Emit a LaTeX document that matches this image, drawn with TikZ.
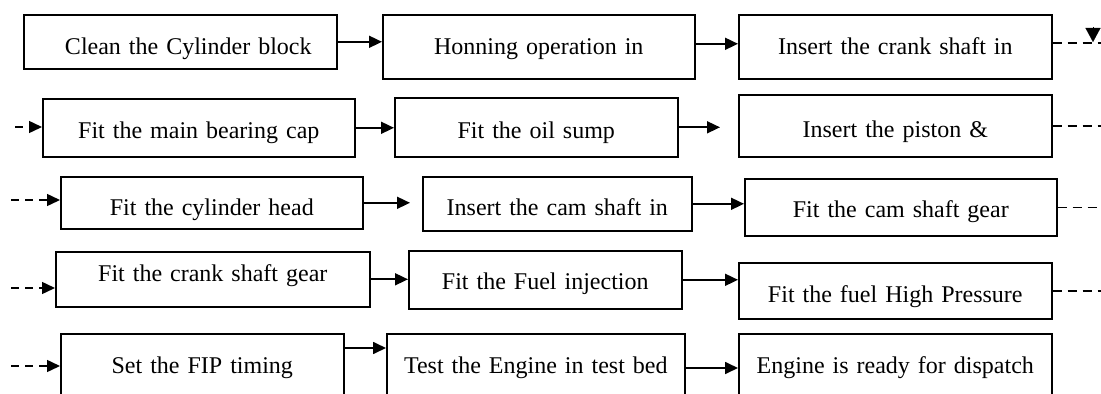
\documentclass[tikz,border=0pt]{standalone}
\usepackage{fontspec}
\setmainfont{Liberation Serif}
\usetikzlibrary{arrows.meta,positioning}

\begin{document}
\begin{tikzpicture}[x=1bp,y=1bp,>={Triangle[length=13bp,width=12bp]},
    stepbox/.style={draw,line width=1.6bp,inner sep=0pt,anchor=north west,align=center,
      font=\fontsize{24bp}{28bp}\selectfont,text height=40bp},
    flow/.style={->,line width=1.7bp},
    dashflow/.style={->,line width=1.5bp,dash pattern=on 8bp off 6bp},
    dashline/.style={line width=1.5bp,dash pattern=on 9bp off 6bp},
    droptip/.style={-{Triangle[length=14bp,width=15bp]},line width=0.1bp}]
  \useasboundingbox (0,0) rectangle (1101,393);
  \clip (0,0) rectangle (1101,393);
  \coordinate (rim) at (1101,0);
  %%
    % Node: clean
    \node[stepbox,text width=313bp,text depth=14bp] (clean) at (23,379) {\hspace*{16bp}Clean the Cylinder block};
    % Node: honing
    \node[stepbox,text width=312bp,text depth=24bp] (honing) at (382,379) {Honning operation in};
    % Node: crank
    \node[stepbox,text width=313bp,text depth=24bp] (crank) at (738,379) {Insert the crank shaft in};
    % Node: bearing
    \node[stepbox,text width=312bp,text depth=18bp] (bearing) at (42,295) {Fit the main bearing cap};
    % Node: sump
    \node[stepbox,text width=283bp,text height=41bp,text depth=18bp] (sump) at (394,296) {Fit the oil sump};
    % Node: piston
    \node[stepbox,text width=313bp,text height=43bp,text depth=19bp] (piston) at (738,299) {Insert the piston \&};
    % Node: head
    \node[stepbox,text width=302bp,text height=39bp,text depth=13bp] (head) at (60,217) {Fit the cylinder head};
    % Node: camshaft
    \node[stepbox,text width=269bp,text height=39bp,text depth=15bp] (camshaft) at (422,217) {Insert the cam shaft in};
    % Node: camgear
    \node[stepbox,text width=312bp,text height=39bp,text depth=18bp] (camgear) at (744,215) {Fit the cam shaft gear};
    % Node: crankgear
    \node[stepbox,text width=314bp,text height=30bp,text depth=25bp] (crankgear) at (55,142) {Fit the crank shaft gear};
    % Node: fuelinj
    \node[stepbox,text width=273bp,text height=39bp,text depth=19bp] (fuelinj) at (408,143) {Fit the Fuel injection};
    % Node: hipump
    \node[stepbox,text width=313bp,text depth=16bp] (hipump) at (738,131) {Fit the fuel High Pressure};
    % Node: timing
    \node[stepbox,text width=283bp,text depth=30bp] (timing) at (60,60) {Set the FIP timing};
    % Node: testbed
    \node[stepbox,text width=298bp,text depth=30bp] (testbed) at (386,60) {Test the Engine in test bed};
    % Node: ready
    \node[stepbox,text width=313bp,text depth=30bp] (ready) at (738,60) {Engine is ready for dispatch};
  %%
    % Edge: clean -> honing
    \draw[flow] (clean.east) -- (clean.east -| honing.west);
    % Edge: honing -> crank
    \coordinate (r1b) at ([yshift=3bp]honing.east);
    \draw[flow] (r1b) -- (r1b -| crank.west);
    % Edge: crank -> (next row)
    \coordinate (r1c) at ([yshift=4bp]crank.east);
    \draw[dashline] (r1c) -- (r1c -| rim);
    \coordinate (drop1) at (1093,366);
    \draw[droptip] (drop1) -- ++(0,-15);
    % Edge: (prev row) -> bearing
    \coordinate (in2) at (15,266);
    \draw[dashflow] (in2) -- (in2 -| bearing.west);
    % Edge: bearing -> sump
    \draw[flow] (bearing.east) -- (bearing.east -| sump.west);
    % Edge: sump -> piston
    \coordinate (out2) at (720,266);
    \draw[flow] (sump.east) -- (sump.east -| out2);
    % Edge: piston -> (next row)
    \draw[dashline] (piston.east) -- (piston.east -| rim);
    % Edge: (prev row) -> head
    \coordinate (in3) at (11,193);
    \draw[dashflow] (in3) -- (in3 -| head.west);
    % Edge: head -> camshaft
    \coordinate (stop3) at ([xshift=-12bp]camshaft.west);
    \draw[flow] (head.east) -- (head.east -| stop3);
    % Edge: camshaft -> camgear
    \draw[flow] (camshaft.east) -- (camshaft.east -| camgear.west);
    % Edge: camgear -> (next row)
    \draw[dashline] (camgear.east) -- (camgear.east -| rim);
    % Edge: (prev row) -> crankgear
    \coordinate (in4) at (11,105);
    \draw[dashflow] (in4) -- (in4 -| crankgear.west);
    % Edge: crankgear -> fuelinj
    \draw[flow] (crankgear.east) -- (crankgear.east -| fuelinj.west);
    % Edge: fuelinj -> hipump
    \draw[flow] (fuelinj.east) -- (fuelinj.east -| hipump.west);
    % Edge: hipump -> (next row)
    \draw[dashline] (hipump.east) -- (hipump.east -| rim);
    % Edge: (prev row) -> timing
    \coordinate (in5) at (11,27);
    \draw[dashflow] (in5) -- (in5 -| timing.west);
    % Edge: timing -> testbed
    \coordinate (r5a) at ([yshift=-15bp]timing.north east);
    \draw[flow] (r5a) -- (r5a -| testbed.west);
    % Edge: testbed -> ready
    \coordinate (r5b) at ([yshift=-35bp]testbed.north east);
    \draw[flow] (r5b) -- (r5b -| ready.west);
  %
\end{tikzpicture}
\end{document}
